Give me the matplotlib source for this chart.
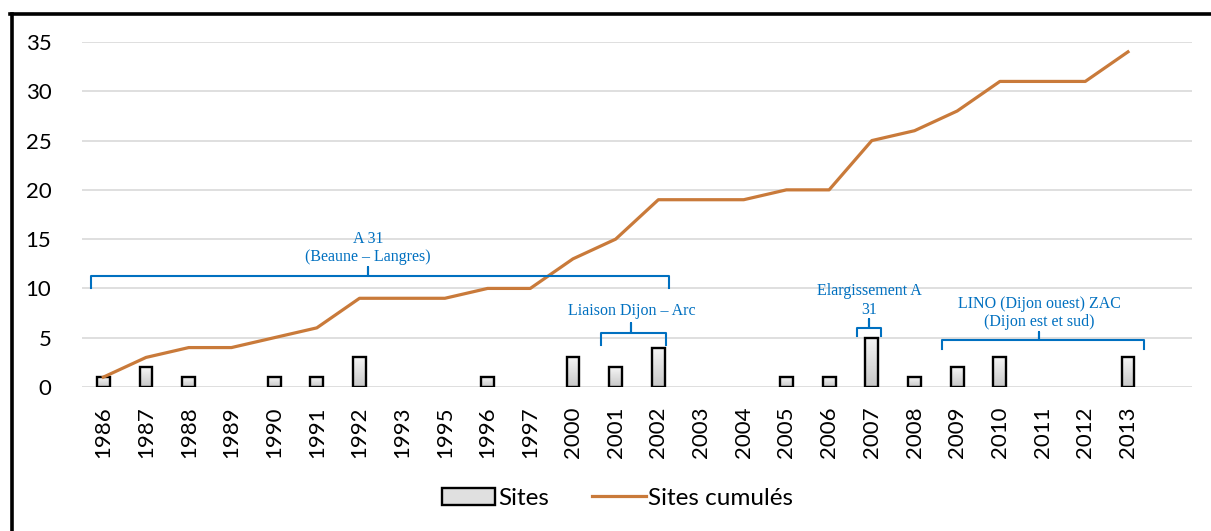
import numpy as np
import matplotlib.pyplot as plt
from matplotlib.lines import Line2D
from matplotlib.patches import Patch

years = ['1986', '1987', '1988', '1989', '1990', '1991', '1992', '1993', '1995',
         '1996', '1997', '2000', '2001', '2002', '2003', '2004', '2005', '2006',
         '2007', '2008', '2009', '2010', '2011', '2012', '2013']
sites = [1, 2, 1, 0, 1, 1, 3, 0, 0, 1, 0, 3, 2, 4, 0, 0, 1, 1, 5, 1, 2, 3, 0, 0, 3]
cumul = [1, 3, 4, 4, 5, 6, 9, 9, 9, 10, 10, 13, 15, 19, 19, 19, 20, 20, 25, 26,
         28, 31, 31, 31, 34]

# brackets: (x start, x end, x centre, y ends, y top, y tick, label)
brackets = [
    (-0.28, 13.24, 6.2, 10.0, 11.25, 12.2, 'A 31\n(Beaune – Langres)'),
    (11.65, 13.17, 12.37, 4.25, 5.45, 6.45, 'Liaison Dijon – Arc'),
    (17.66, 18.22, 17.94, 5.2, 6.0, 6.9, 'Elargissement A\n31'),
    (19.65, 24.37, 21.92, 3.85, 4.75, 5.6, 'LINO (Dijon ouest) ZAC\n(Dijon est et sud)'),
]

plt.rcParams['font.family'] = ['Lato', 'DejaVu Sans']

fig = plt.figure(figsize=(12.11, 5.31), dpi=100)
ax = fig.add_axes([82 / 1211, 1 - 387 / 531, (1192 - 82) / 1211, (387 - 42) / 531])

x = np.arange(len(years))
bw = 0.3
grad = np.linspace(0.96, 0.78, 64).reshape(-1, 1)
xs = [xi for xi, v in zip(x, sites) if v > 0]
vs = [v for v in sites if v > 0]
for xi, v in zip(xs, vs):
    ax.imshow(grad, cmap='gray', vmin=0, vmax=1, aspect='auto',
              extent=(xi - bw / 2, xi + bw / 2, 0, v), zorder=2)
ax.bar(xs, vs, width=bw, facecolor='none', edgecolor='black', linewidth=1.7, zorder=3)
ax.plot(x, cumul, color='#C97A3A', linewidth=2.3, zorder=4)

blue = '#0070C0'
for x0, x1, xc, ye, yt, ytk, lab in brackets:
    ax.plot([x0, x0, xc, xc, xc, x1, x1], [ye, yt, yt, ytk, yt, yt, ye],
            color=blue, linewidth=1.5, zorder=5, solid_joinstyle='round')
    nlines = lab.count('\n') + 1
    ax.text(xc, ytk + 0.15 + (0.3 if nlines == 1 else 0), lab, ha='center', va='bottom',
            color=blue, fontsize=11.5, family='Liberation Serif', linespacing=1.2, zorder=6)

ax.set_xlim(-0.5, 25.5)
ax.set_ylim(0, 35)
ax.set_yticks(range(0, 36, 5))
ax.set_xticks(x)
ax.set_xticklabels(years, rotation=90)
ax.tick_params(axis='both', length=0, labelsize=16)
ax.tick_params(axis='y', pad=22)
ax.tick_params(axis='x', pad=14)
ax.grid(axis='y', color='#d9d9d9', linewidth=1.2)
ax.set_axisbelow(True)
for s in ax.spines.values():
    s.set_visible(False)

handles = [Patch(facecolor='#e0e0e0', edgecolor='black', linewidth=1.7),
           Line2D([0], [0], color='#C97A3A', linewidth=2.3)]
fig.legend(handles, ['Sites', 'Sites cumulés'], loc='center', bbox_to_anchor=(0.51, 0.062),
           ncol=2, frameon=False, fontsize=17.5, handlelength=2.2, handletextpad=0.1,
           columnspacing=1.8)

fig.add_artist(Line2D([10 / 1211, 1], [1 - 14 / 531, 1 - 14 / 531], color='black', linewidth=2.6))
fig.add_artist(Line2D([12 / 1211, 12 / 1211], [0, 1 - 14 / 531], color='black', linewidth=2.6))

fig.savefig('out.png', dpi=100)
